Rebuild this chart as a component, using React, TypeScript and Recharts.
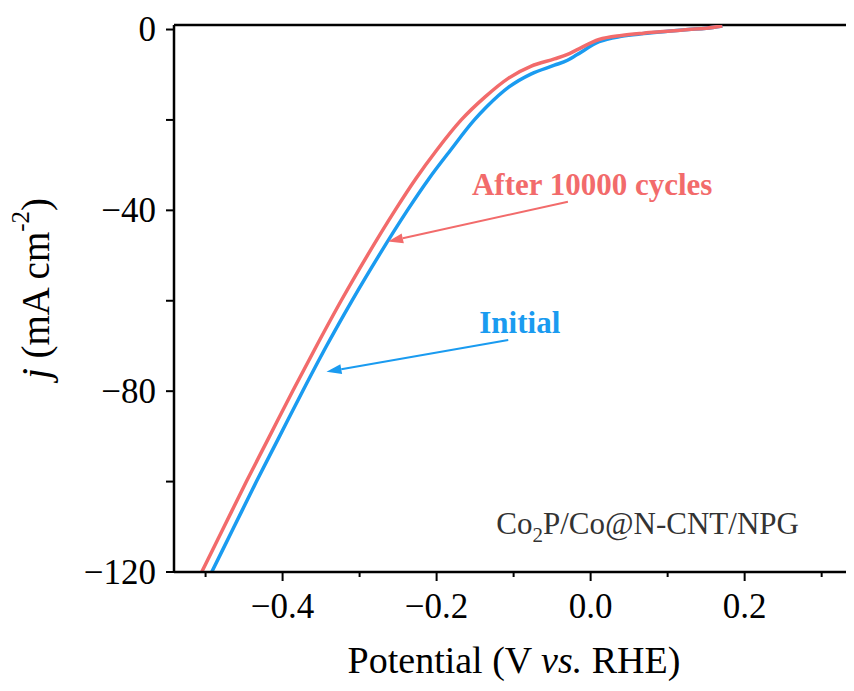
import React from 'react';
import {
  LineChart,
  Line,
  XAxis,
  YAxis,
  ReferenceLine,
  ReferenceDot,
} from 'recharts';

// ----------------------
// DATA (potential V vs RHE, current density mA cm-2)
// ----------------------
const afterCycles = [
  { v: -0.505, j: -120 },
  { v: -0.476, j: -110 },
  { v: -0.447, j: -100 },
  { v: -0.417, j: -90 },
  { v: -0.387, j: -80 },
  { v: -0.356, j: -70 },
  { v: -0.324, j: -60 },
  { v: -0.29, j: -50 },
  { v: -0.254, j: -40 },
  { v: -0.227, j: -33 },
  { v: -0.2, j: -26.7 },
  { v: -0.168, j: -20 },
  { v: -0.137, j: -14.9 },
  { v: -0.107, j: -10.8 },
  { v: -0.077, j: -8.1 },
  { v: -0.047, j: -6.5 },
  { v: -0.03, j: -5.5 },
  { v: -0.018, j: -4.5 },
  { v: 0.011, j: -2.2 },
  { v: 0.04, j: -1.3 },
  { v: 0.069, j: -0.8 },
  { v: 0.1, j: -0.4 },
  { v: 0.127, j: 0 },
  { v: 0.15, j: 0.3 },
  { v: 0.171, j: 0.8 },
];

const initial = [
  { v: -0.492, j: -120 },
  { v: -0.463, j: -110 },
  { v: -0.434, j: -100 },
  { v: -0.404, j: -90 },
  { v: -0.374, j: -80 },
  { v: -0.343, j: -70 },
  { v: -0.31, j: -60 },
  { v: -0.275, j: -50 },
  { v: -0.238, j: -40 },
  { v: -0.21, j: -33 },
  { v: -0.182, j: -26.7 },
  { v: -0.151, j: -20 },
  { v: -0.135, j: -17.1 },
  { v: -0.106, j: -12.7 },
  { v: -0.077, j: -9.8 },
  { v: -0.047, j: -7.9 },
  { v: -0.03, j: -6.8 },
  { v: -0.018, j: -5.6 },
  { v: 0.011, j: -2.7 },
  { v: 0.04, j: -1.5 },
  { v: 0.069, j: -0.9 },
  { v: 0.1, j: -0.4 },
  { v: 0.127, j: 0 },
  { v: 0.15, j: 0.3 },
  { v: 0.171, j: 0.8 },
];

const xTicks = [-0.5, -0.4, -0.3, -0.2, -0.1, 0, 0.1, 0.2, 0.3];
const yTicks = [-120, -100, -80, -60, -40, -20, 0];
const xDomain = [-0.541, 0.342];
const yDomain = [-120, 1];

const RED = '#F26B6B';
const BLUE = '#1A9BF0';
const FONT = '"Liberation Serif", "Times New Roman", serif';

const fmt = (n: number, d: number) => {
  const s = Math.abs(n).toFixed(d);
  return n < -1e-9 ? `\u2212${s}` : s;
};

// ----------------------
// CUSTOM TICKS
// ----------------------
const XTick = ({ x, y, payload }: any) => {
  const major = Math.round(payload.value * 10) % 2 === 0;
  return (
    <g>
      <line x1={x} x2={x} y1={y} y2={y + (major ? 9 : 5)} stroke="#000" strokeWidth={2} />
      {major && (
        <text x={x} y={y + 46} textAnchor="middle" fontSize={35} fontFamily={FONT} fill="#000">
          {fmt(payload.value, 1)}
        </text>
      )}
    </g>
  );
};

const YTick = ({ x, y, payload }: any) => {
  const major = Math.round(payload.value) % 40 === 0;
  return (
    <g>
      <line x1={x} x2={x - 8} y1={y} y2={y} stroke="#000" strokeWidth={2} />
      {major && (
        <text x={x - 18} y={y + 11.5} textAnchor="end" fontSize={35} fontFamily={FONT} fill="#000">
          {fmt(payload.value, 0)}
        </text>
      )}
    </g>
  );
};

const XTitle = ({ viewBox }: any) => {
  const cx = viewBox.x + viewBox.width / 2;
  return (
    <text x={cx} y={viewBox.y + 101} textAnchor="middle" fontSize={38} fontFamily={FONT} fill="#000">
      Potential (V <tspan fontStyle="italic">vs.</tspan> RHE)
    </text>
  );
};

const YTitle = ({ viewBox }: any) => {
  const cx = 27;
  const cy = viewBox.y + viewBox.height / 2 - 10;
  return (
    <text
      x={cx}
      y={cy}
      transform={`rotate(-90, ${cx}, ${cy})`}
      textAnchor="middle"
      dominantBaseline="central"
      fontSize={39}
      fontFamily={FONT}
      fill="#000"
    >
      <tspan fontStyle="italic">j</tspan> (mA cm
      <tspan dy={-15} fontSize={25}>-2</tspan>
      <tspan dy={15}>)</tspan>
    </text>
  );
};

// ----------------------
// ANNOTATIONS
// ----------------------
const arrowShape = (color: string) => (props: any) => {
  const { x1, y1, x2, y2 } = props;
  const ang = Math.atan2(y2 - y1, x2 - x1);
  const len = 15;
  const half = 5;
  const bx = x2 - len * Math.cos(ang);
  const by = y2 - len * Math.sin(ang);
  const px = -Math.sin(ang) * half;
  const py = Math.cos(ang) * half;
  return (
    <g>
      <line x1={x1} y1={y1} x2={bx} y2={by} stroke={color} strokeWidth={2} />
      <polygon points={`${x2},${y2} ${bx + px},${by + py} ${bx - px},${by - py}`} fill={color} />
    </g>
  );
};

const textShape = (txt: string, color: string, bold: boolean) => (props: any) => (
  <text
    x={props.cx}
    y={props.cy}
    textAnchor="middle"
    dominantBaseline="central"
    fontSize={31}
    fontWeight={bold ? 'bold' : 'normal'}
    fontFamily={FONT}
    fill={color}
  >
    {txt}
  </text>
);

const sampleShape = (props: any) => (
  <text x={props.cx} y={props.cy} textAnchor="middle" fontSize={31} fontFamily={FONT} fill="#333">
    Co<tspan dy={8} fontSize={21}>2</tspan>
    <tspan dy={-8}>P/Co@N-CNT/NPG</tspan>
  </text>
);

export default function App() {
  return (
    <div style={{ width: 846, height: 675, overflow: 'hidden', background: '#fff' }}>
      <LineChart width={846} height={675} margin={{ top: 17, right: 0, left: 0, bottom: 0 }}>
        <XAxis
          dataKey="v"
          type="number"
          domain={xDomain}
          allowDataOverflow
          ticks={xTicks}
          interval={0}
          height={111}
          tickSize={0}
          tickMargin={0}
          tickLine={false}
          axisLine={{ stroke: '#000', strokeWidth: 2.5 }}
          tick={<XTick />}
          label={{ content: <XTitle /> }}
        />
        <YAxis
          dataKey="j"
          type="number"
          domain={yDomain}
          allowDataOverflow
          ticks={yTicks}
          interval={0}
          width={166}
          tickSize={0}
          tickMargin={0}
          tickLine={false}
          axisLine={{ stroke: '#000', strokeWidth: 2.5 }}
          tick={<YTick />}
          label={{ content: <YTitle /> }}
        />
        <ReferenceLine y={1} stroke="#000" strokeWidth={2.5} />
        <Line
          data={initial}
          dataKey="j"
          type="monotone"
          stroke={BLUE}
          strokeWidth={3.5}
          dot={false}
          isAnimationActive={false}
        />
        <Line
          data={afterCycles}
          dataKey="j"
          type="monotone"
          stroke={RED}
          strokeWidth={3.5}
          dot={false}
          isAnimationActive={false}
        />
        <ReferenceLine
          segment={[{ x: -0.0295, y: -38.1 }, { x: -0.263, y: -46.9 }]}
          shape={arrowShape(RED)}
        />
        <ReferenceLine
          segment={[{ x: -0.107, y: -68.7 }, { x: -0.343, y: -75.7 }]}
          shape={arrowShape(BLUE)}
        />
        <ReferenceDot x={0.002} y={-34.2} r={0} shape={textShape('After 10000 cycles', RED, true)} />
        <ReferenceDot x={-0.092} y={-64.7} r={0} shape={textShape('Initial', BLUE, true)} />
        <ReferenceDot x={0.074} y={-111.6} r={0} shape={sampleShape} />
      </LineChart>
    </div>
  );
}
